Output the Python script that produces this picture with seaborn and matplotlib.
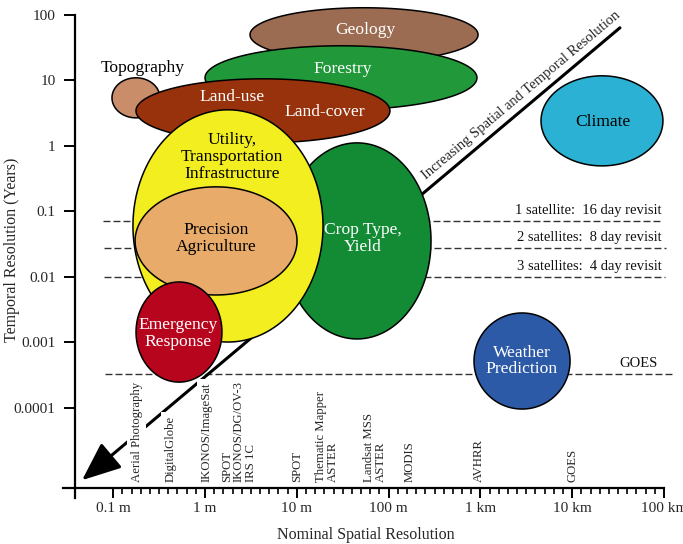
import numpy as np
import matplotlib
matplotlib.use('Agg')
import matplotlib.pyplot as plt
import seaborn as sns
from matplotlib.patches import FancyArrowPatch
from matplotlib.ticker import NullLocator

# ------------------------------
# Data
# ------------------------------
# application areas: centre (spatial res in m, temporal res in years),
# half extents in decades (x, y)
app_names = ['Geology', 'Forestry', 'Topography', 'Land-use', 'Crop Type',
             'Utility', 'Precision Agriculture', 'Emergency Response',
             'Climate', 'Weather Prediction']
app_x = [54, 30.3, 0.177, 4.28, 45.3, 1.78, 1.32, 0.521, 21100, 2840]
app_y = [49.8, 10.96, 5.42, 3.43, 0.0353, 0.0598, 0.0353, 0.00143, 2.41, 0.000516]
app_wx = [1.242, 1.481, 0.261, 1.383, 0.806, 1.035, 0.882, 0.468, 0.664, 0.523]
app_wy = [0.413, 0.489, 0.306, 0.489, 1.498, 1.774, 0.826, 0.765, 0.688, 0.734]
app_colors = ['#9b6b52', '#21993a', '#c98d6a', '#98320c', '#138b35',
              '#f3ee1f', '#e8ab69', '#b8051e', '#2bb1d3', '#2c5aa7']

# text inside / next to the areas
label_text = ['Geology', 'Forestry', 'Topography', 'Land-use', 'Land-cover',
              'Utility,\nTransportation\nInfrastructure', 'Precision\nAgriculture',
              'Crop Type,\nYield', 'Emergency\nResponse', 'Climate',
              'Weather\nPrediction']
label_x = [55.3, 31.9, 0.211, 1.97, 20.3, 1.97, 1.32, 52.6, 0.508, 21700, 2840]
label_y = [59.4, 15.0, 15.6, 5.61, 3.31, 0.679, 0.0378, 0.0378, 0.00135, 2.33, 0.000516]
label_color = ['white', 'white', 'black', 'white', 'white', 'black', 'black',
               'white', 'white', 'black', 'white']

# revisit lines (years)
revisit_labels = ['1 satellite:  16 day revisit', '2 satellites:  8 day revisit',
                  '3 satellites:  4 day revisit', 'GOES']
revisit_y = [0.071, 0.0276, 0.0099, 0.00033]
revisit_x0 = [0.078, 0.08, 0.08, 0.082]
revisit_x1 = [90000, 105000, 103000, 122000]
revisit_text_x = [95000, 95000, 95000, 86000]

# sensors (spatial resolution in m)
sensor_labels = ['Aerial Photography', 'DigitalGlobe', 'IKONOS/ImageSat',
                 'SPOT\nIKONOS/DG/OV-3\nIRS 1C', 'SPOT', 'Thematic Mapper\nASTER',
                 'Landsat MSS\nASTER', 'MODIS', 'AVHRR', 'GOES']
sensor_x = [0.18, 0.42, 1.05, 2.35, 10, 21.3, 71, 171, 966, 10200]

x_ticks = [0.1, 1, 10, 100, 1000, 10000, 100000]
x_ticklabels = ['0.1 m', '1 m', '10 m', '100 m', '1 km', '10 km', '100 km']
y_ticks = [0.0001, 0.001, 0.01, 0.1, 1, 10, 100]
y_ticklabels = ['0.0001', '0.001', '0.01', '0.1', '1', '10', '100']

# ------------------------------
# Plot
# ------------------------------
sns.set_theme(style='ticks')
plt.rcParams['font.family'] = ['Liberation Serif', 'DejaVu Serif']

fig = plt.figure(figsize=(6.83, 5.44), dpi=100)
ax = fig.add_axes([0.0922, 0.0846, 0.8800, 0.8879])
ax.set_xscale('log')
ax.set_yscale('log')
ax.set_xlim(10 ** -1.547, 1e5)
ax.set_ylim(10 ** -5.38, 100)

# revisit dashed lines
for lab, yv, x0, x1, tx in zip(revisit_labels, revisit_y, revisit_x0, revisit_x1, revisit_text_x):
    ax.hlines(yv, x0, x1, colors='#333333', linestyles=(0, (5, 2.2)), lw=1.0,
              zorder=1, clip_on=False)
    ax.annotate(lab, (tx, yv), xytext=(0, 7.5), textcoords='offset points',
                ha='right', va='center', fontsize=10.5, color='#111111', zorder=20)

# diagonal arrow
arrow = FancyArrowPatch((33100, 63.7), (0.0458, 7.8e-6),
                        arrowstyle='-|>,head_length=2.4,head_width=1.0',
                        mutation_scale=10, lw=2.2, color='black',
                        shrinkA=0, shrinkB=0, zorder=2, clip_on=False)
ax.add_patch(arrow)
ax.text(2770, 5.82, 'Increasing Spatial and Temporal Resolution', rotation=40,
        ha='center', va='center', fontsize=10.5, zorder=20)

# application ellipses drawn in log space
t = np.linspace(0, 2 * np.pi, 300)
for i, (cx, cy, wx, wy, c) in enumerate(zip(app_x, app_y, app_wx, app_wy, app_colors)):
    lx = np.log10(cx) + wx * np.cos(t)
    ly = np.log10(cy) + wy * np.sin(t)
    ax.fill(10 ** lx, 10 ** ly, facecolor=c, edgecolor='black', lw=1.1,
            zorder=5 + i, clip_on=False)

for txt, xv, yv, c in zip(label_text, label_x, label_y, label_color):
    ax.text(xv, yv, txt, ha='center', va='center', fontsize=12.6, color=c,
            linespacing=1.08, zorder=30)

# sensor labels
for lab, xv in zip(sensor_labels, sensor_x):
    ax.text(xv, 7.3e-6, lab, rotation=90, ha='center', va='bottom',
            multialignment='left', fontsize=9.2, linespacing=1.0, zorder=20,
            bbox=dict(boxstyle='square,pad=0.3', fc='white', ec='none'))

# axes styling
sns.despine(ax=ax)
ax.spines['left'].set_position(('data', 0.0384))
ax.spines['bottom'].set_position(('data', 5.9e-6))
for s in ['left', 'bottom']:
    ax.spines[s].set_linewidth(1.6)
    ax.spines[s].set_color('black')

ax.set_xticks(x_ticks)
ax.set_xticklabels(x_ticklabels)
minor = [10 ** (k + i / 10) for k in range(-1, 5) for i in range(1, 10)]
ax.set_xticks(minor, minor=True)
ax.xaxis.set_minor_formatter(plt.NullFormatter())
ax.set_yticks(y_ticks)
ax.set_yticklabels(y_ticklabels)
ax.yaxis.set_minor_locator(NullLocator())

ax.tick_params(axis='x', which='major', length=7.2, width=1.4, direction='out',
               labelsize=11, pad=2.5, color='black')
ax.tick_params(axis='x', which='minor', length=4, width=1.2, direction='out',
               color='black')
ax.tick_params(axis='y', which='major', length=8, width=1.4, direction='out',
               labelsize=11, pad=6, color='black')

ax.set_xlabel('Nominal Spatial Resolution', fontsize=11.5, va='center')
ax.xaxis.set_label_coords(0.504, -0.0766)
ax.set_ylabel('Temporal Resolution (Years)', fontsize=11.5, va='center')
ax.yaxis.set_label_coords(-0.0849, 0.513)

fig.savefig('out.png', dpi=100)
